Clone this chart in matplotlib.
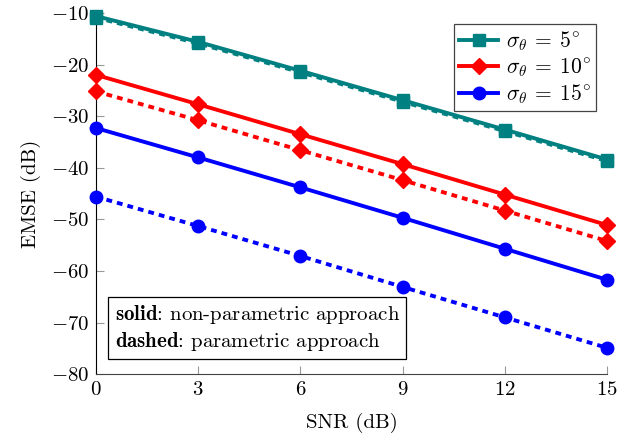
import matplotlib
matplotlib.use('Agg')
import matplotlib.pyplot as plt

plt.rcParams['font.family'] = 'serif'
plt.rcParams['font.serif'] = ['cmr10', 'DejaVu Serif']
plt.rcParams['mathtext.fontset'] = 'cm'
plt.rcParams['axes.formatter.use_mathtext'] = True
plt.rcParams['font.size'] = 15

snr = [0, 3, 6, 9, 12, 15]

# solid: non-parametric, dashed: parametric
emse_5_np = [-10.6, -15.6, -21.2, -26.9, -32.6, -38.4]
emse_5_p = [-10.9, -15.9, -21.5, -27.2, -32.9, -38.7]
emse_10_np = [-22.0, -27.7, -33.5, -39.3, -45.2, -51.1]
emse_10_p = [-25.2, -30.8, -36.6, -42.4, -48.3, -54.2]
emse_15_np = [-32.3, -38.0, -43.8, -49.7, -55.7, -61.7]
emse_15_p = [-45.6, -51.3, -57.1, -63.1, -69.0, -74.9]

labels = [r'$\sigma_\theta\:=\:5^{\!\circ}$', r'$\sigma_\theta\:=\:10^{\!\circ}$', r'$\sigma_\theta\:=\:15^{\!\circ}$']

fig = plt.figure(figsize=(6.34, 4.33), dpi=100)
ax = fig.add_axes([0.1514, 0.136, 0.806, 0.834])

lw = 2.8
dash = (1.5, 1.3)
ax.plot(snr, emse_5_p, color='#008080', lw=lw, ls=(0, dash), marker='s', ms=9, clip_on=False, zorder=3)
ax.plot(snr, emse_5_np, color='#008080', lw=lw, marker='s', ms=9, clip_on=False, zorder=3, label=labels[0])
ax.plot(snr, emse_10_np, color='red', lw=lw, marker='D', ms=8, clip_on=False, zorder=3, label=labels[1])
ax.plot(snr, emse_10_p, color='red', lw=lw, ls=(0, dash), marker='D', ms=8, clip_on=False, zorder=3)
ax.plot(snr, emse_15_np, color='blue', lw=lw, marker='o', ms=9, clip_on=False, zorder=3, label=labels[2])
ax.plot(snr, emse_15_p, color='blue', lw=lw, ls=(0, dash), marker='o', ms=9, clip_on=False, zorder=3)

ax.set_xlim(0, 15)
ax.set_ylim(-80, -10)
ax.set_xticks(snr)
ax.set_yticks(range(-80, -9, 10))
ax.spines['top'].set_visible(False)
ax.spines['right'].set_visible(False)
ax.spines['bottom'].set_color('#444444')
ax.tick_params(direction='in', length=5.5, color='#999999', labelsize=15, pad=5)
ax.set_xlabel('SNR (dB)', labelpad=10)
ax.set_ylabel('EMSE (dB)', labelpad=7)

leg = ax.legend(loc='upper right', fancybox=False, edgecolor='#444444', framealpha=1,
                handlelength=1.8, handletextpad=0.35, labelspacing=0.15,
                borderpad=0.25, borderaxespad=0.5, fontsize=15.5)
leg.get_frame().set_linewidth(0.9)

ax.text(0.55, -66.3, r'$\mathbf{solid}$: non-parametric approach' + '\n' + r'$\mathbf{dashed}$: parametric approach',
        va='top', ha='left', fontsize=15, linespacing=1.2,
        bbox=dict(boxstyle='square,pad=0.3', fc='white', ec='black', lw=0.9))

fig.savefig('out.png', dpi=100)
